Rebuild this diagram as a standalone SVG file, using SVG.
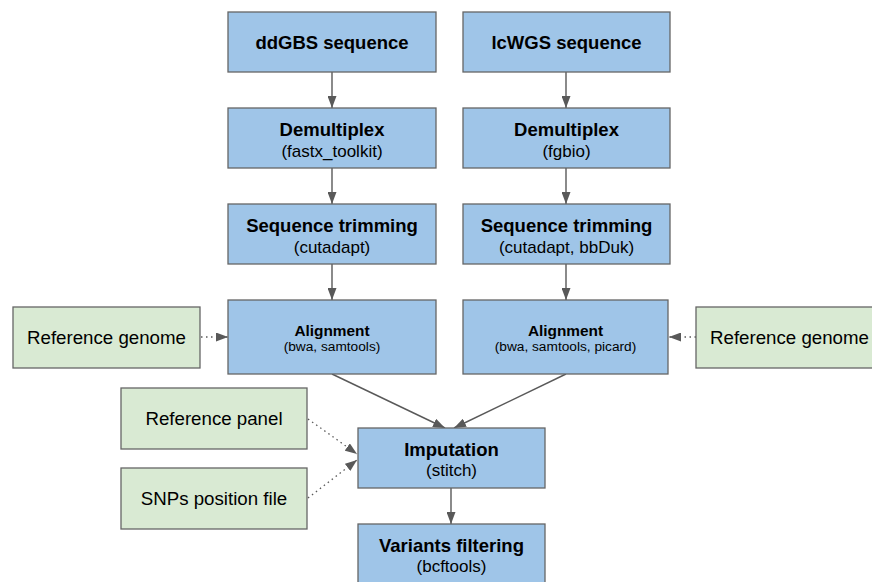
<svg xmlns="http://www.w3.org/2000/svg" width="872" height="582" viewBox="0 0 872 582">
  <style>
    .step { fill: #9fc5e8; stroke: #666666; stroke-width: 1.3; }
    .input { fill: #d9ead3; stroke: #666666; stroke-width: 1.3; }
    text { font-family: "Liberation Sans", Arial, sans-serif; fill: #000000; text-anchor: middle; }
    .title { font-size: 18.5px; font-weight: bold; }
    .sub { font-size: 17px; }
    .title-s { font-size: 15.4px; font-weight: bold; }
    .sub-s { font-size: 13.7px; }
    .label { font-size: 18.7px; }
    .edge { fill: none; stroke: #595959; stroke-width: 1.4; }
    .dotted { fill: none; stroke: #595959; stroke-width: 1.3; stroke-dasharray: 1.5 3.5; }
  </style>
  <defs>
    <marker id="head" viewBox="0 0 12 9" refX="12" refY="4.5" markerWidth="12" markerHeight="9" markerUnits="userSpaceOnUse" orient="auto">
      <path d="M0,0 L12,4.5 L0,9 Z" fill="#595959"/>
    </marker>
  </defs>

  <rect width="872" height="582" fill="#ffffff"/>

  <g id="connectors">
    <line class="edge" x1="332" y1="72" x2="332" y2="108" marker-end="url(#head)"/>
    <line class="edge" x1="332" y1="168" x2="332" y2="204" marker-end="url(#head)"/>
    <line class="edge" x1="332" y1="264" x2="332" y2="300" marker-end="url(#head)"/>
    <line class="edge" x1="566" y1="72" x2="566" y2="108" marker-end="url(#head)"/>
    <line class="edge" x1="566" y1="168" x2="566" y2="204" marker-end="url(#head)"/>
    <line class="edge" x1="566" y1="264" x2="566" y2="300" marker-end="url(#head)"/>
    <line class="edge" x1="332" y1="374" x2="445" y2="428" marker-end="url(#head)"/>
    <line class="edge" x1="566" y1="374" x2="454" y2="428" marker-end="url(#head)"/>
    <line class="edge" x1="451" y1="488" x2="451" y2="524" marker-end="url(#head)"/>
    <line class="dotted" x1="201" y1="337" x2="228" y2="337" marker-end="url(#head)"/>
    <line class="dotted" x1="696" y1="337" x2="669" y2="337" marker-end="url(#head)"/>
    <line class="dotted" x1="308" y1="419" x2="357" y2="454" marker-end="url(#head)"/>
    <line class="dotted" x1="308" y1="498" x2="357" y2="460" marker-end="url(#head)"/>
  </g>

  <g id="ddgbs">
    <rect class="step" x="228" y="12" width="208" height="60"/>
    <text class="title" x="332" y="48.5">ddGBS sequence</text>
  </g>
  <g id="lcwgs">
    <rect class="step" x="463" y="12" width="207" height="60"/>
    <text class="title" x="566.5" y="48.5">lcWGS sequence</text>
  </g>

  <g id="demux-ddgbs">
    <rect class="step" x="228" y="108" width="208" height="60"/>
    <text class="title" x="332" y="135.7">Demultiplex</text>
    <text class="sub" x="332" y="156.7">(fastx_toolkit)</text>
  </g>
  <g id="demux-lcwgs">
    <rect class="step" x="463" y="108" width="207" height="60"/>
    <text class="title" x="566.5" y="135.7">Demultiplex</text>
    <text class="sub" x="566.5" y="156.7">(fgbio)</text>
  </g>

  <g id="trim-ddgbs">
    <rect class="step" x="228" y="204" width="208" height="60"/>
    <text class="title" x="332" y="231.7">Sequence trimming</text>
    <text class="sub" x="332" y="252.7">(cutadapt)</text>
  </g>
  <g id="trim-lcwgs">
    <rect class="step" x="463" y="204" width="207" height="60"/>
    <text class="title" x="566.5" y="231.7">Sequence trimming</text>
    <text class="sub" x="566.5" y="252.7">(cutadapt, bbDuk)</text>
  </g>

  <g id="align-ddgbs">
    <rect class="step" x="228" y="300" width="208" height="74"/>
    <text class="title-s" x="332" y="335.7">Alignment</text>
    <text class="sub-s" x="332" y="351">(bwa, samtools)</text>
  </g>
  <g id="align-lcwgs">
    <rect class="step" x="463" y="300" width="205" height="74"/>
    <text class="title-s" x="565.5" y="335.7">Alignment</text>
    <text class="sub-s" x="565.5" y="351">(bwa, samtools, picard)</text>
  </g>

  <g id="refgenome-left">
    <rect class="input" x="13" y="307" width="187" height="61"/>
    <text class="label" x="106.5" y="344">Reference genome</text>
  </g>
  <g id="refgenome-right">
    <rect class="input" x="696" y="307" width="187" height="61"/>
    <text class="label" x="789.5" y="344">Reference genome</text>
  </g>

  <g id="refpanel">
    <rect class="input" x="121" y="388" width="186" height="61"/>
    <text class="label" x="214" y="425">Reference panel</text>
  </g>
  <g id="snps">
    <rect class="input" x="121" y="468" width="186" height="61"/>
    <text class="label" x="214" y="505">SNPs position file</text>
  </g>

  <g id="imputation">
    <rect class="step" x="358" y="428" width="187" height="60"/>
    <text class="title" x="451.5" y="456">Imputation</text>
    <text class="sub" x="451.5" y="476">(stitch)</text>
  </g>
  <g id="filtering">
    <rect class="step" x="358" y="524" width="187" height="70"/>
    <text class="title" x="451.5" y="552">Variants filtering</text>
    <text class="sub" x="451.5" y="572">(bcftools)</text>
  </g>
</svg>
